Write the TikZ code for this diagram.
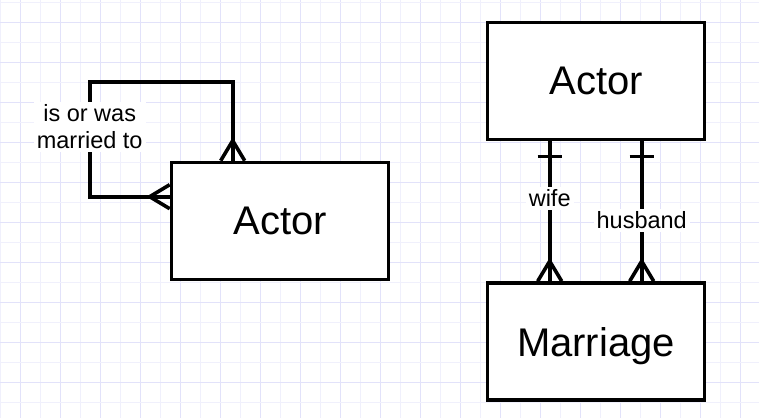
\documentclass[tikz,border=0pt]{standalone}
\usepackage{fontspec}
\setmainfont{Liberation Sans}
\usetikzlibrary{calc}
\definecolor{gridminor}{RGB}{240,240,252}
\definecolor{gridmajor}{RGB}{226,226,250}
\begin{document}
\begin{tikzpicture}[x=1pt,y=-1pt,
  ent/.style={draw=black,line width=3.6pt,fill=white,minimum width=217,minimum height=117,
    inner sep=0pt,text depth=0pt,font=\fontsize{40}{46}\selectfont},
  conn/.style={draw=black,line width=3.6pt,line cap=butt,line join=miter},
  lbl/.style={fill=white,inner sep=3pt,align=center,font=\fontsize{23.5}{27}\selectfont}]
\useasboundingbox (0,0) rectangle (759,418);
\fill[white] (0,0) rectangle (759,418);
% grid
\foreach \i in {0,...,37}{
  \pgfmathsetmacro{\gx}{0.7+20*\i}
  \ifodd\i \def\gc{gridmajor}\else\def\gc{gridminor}\fi
  \draw[\gc,line width=1pt] (\gx,0) -- (\gx,418);
}
\foreach \i in {0,...,20}{
  \pgfmathsetmacro{\gy}{2.7+20*\i}
  \ifodd\i \def\gc{gridmajor}\else\def\gc{gridminor}\fi
  \draw[\gc,line width=1pt] (0,\gy) -- (759,\gy);
}
% entities
\node[ent] (la) at (280,221) {Actor};
\node[ent] (ra) at (596,81) {Actor};
\node[ent] (mar) at (596,341.5) {Marriage};
% self loop on left Actor
\coordinate (p1) at ($(la.north west)+(0,36)$);
\coordinate (p2) at ($(la.north west)+(63,0)$);
\draw[conn] (p1) -- ++(-80,0) |- ($(p2)+(0,-79)$) -- (p2);
\draw[conn] ($(p1)+(-20,0)$) -- ($(p1)+(0,-12)$);
\draw[conn] ($(p1)+(-20,0)$) -- ($(p1)+(0,12)$);
\draw[conn] ($(p2)+(0,-20)$) -- ($(p2)+(-12,0)$);
\draw[conn] ($(p2)+(0,-20)$) -- ($(p2)+(12,0)$);
\node[lbl] (l1) at ($(p1)+(-80,-70)$) {is or was\\married to};
% wife
\coordinate (w1) at ($(ra.south west)+(64,0)$);
\coordinate (w2) at ($(mar.north west)+(64,0)$);
\draw[conn] (w1) -- (w2);
\draw[conn] ($(w1)+(-12,15)$) -- ($(w1)+(12,15)$);
\draw[conn] ($(w2)+(0,-20)$) -- ($(w2)+(-12,0)$);
\draw[conn] ($(w2)+(0,-20)$) -- ($(w2)+(12,0)$);
\node[lbl] (lw) at ($(w1)+(0,57)$) {wife};
% husband
\coordinate (h1) at ($(ra.south west)+(156,0)$);
\coordinate (h2) at ($(mar.north west)+(156,0)$);
\draw[conn] (h1) -- (h2);
\draw[conn] ($(h1)+(-12,15)$) -- ($(h1)+(12,15)$);
\draw[conn] ($(h2)+(0,-20)$) -- ($(h2)+(-12,0)$);
\draw[conn] ($(h2)+(0,-20)$) -- ($(h2)+(12,0)$);
\node[lbl] (lh) at ($(h1)+(0,79)$) {husband};
\end{tikzpicture}
\end{document}
